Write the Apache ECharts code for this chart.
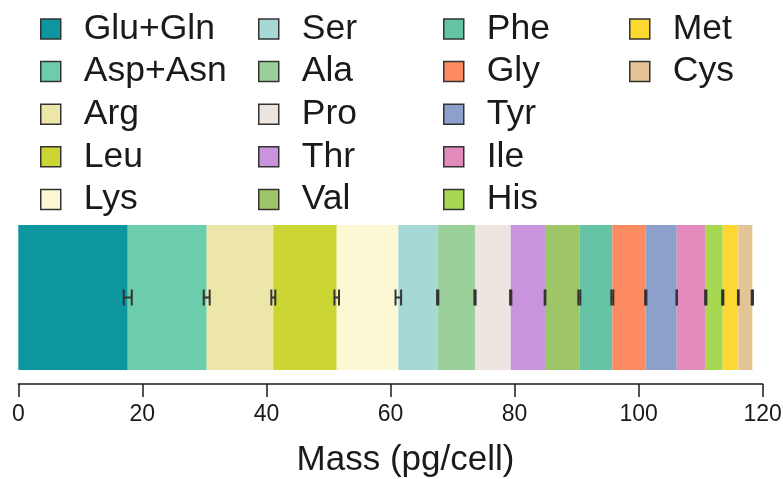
<!DOCTYPE html>
<html>
<head>
<meta charset="utf-8">
<script src="https://cdn.jsdelivr.net/npm/echarts@6/dist/echarts.min.js"></script>
<style>
  html, body { margin: 0; padding: 0; background: #fff; }
  #chart { width: 783px; height: 479px; }
</style>
</head>
<body>
<div id="chart"></div>
<script>
// Amino acid mass per cell (pg/cell), stacked left to right
const aminoAcids = ['Glu+Gln', 'Asp+Asn', 'Arg', 'Leu', 'Lys', 'Ser', 'Ala', 'Pro', 'Thr',
                    'Val', 'Phe', 'Gly', 'Tyr', 'Ile', 'His', 'Met', 'Cys'];
const massValues = [17.64, 12.73, 10.74, 10.22, 9.93, 6.35, 6.01, 5.76, 5.53,
                    5.53, 5.32, 5.39, 4.99, 4.68, 2.74, 2.51, 2.26];
const massErrors = [0.65, 0.48, 0.32, 0.37, 0.45, 0.10, 0.10, 0.10, 0.06,
                    0.16, 0.16, 0.10, 0.03, 0.10, 0.10, 0.06, 0.10];
const segmentColors = ['#0b96a0', '#6bcdab', '#ece6a9', '#cbd534', '#fbf8d3', '#a6d8d6',
                       '#9cd09a', '#ede5df', '#c994db', '#9ec668', '#66c4a6', '#fc8b62',
                       '#8ca0cb', '#e38abd', '#a6d852', '#fdd830', '#e4c495'];
const xTicks = { min: 0, max: 120, interval: 20 };
const legendColumns = [aminoAcids.slice(0, 5), aminoAcids.slice(5, 10),
                       aminoAcids.slice(10, 15), aminoAcids.slice(15)];

const FONT = '"Liberation Sans", Arial, Helvetica, sans-serif';
const INK = '#1a1a1a';

// running totals: each error bar sits at the right end of its segment
const errorBarData = [];
let running = 0;
massValues.forEach((v, i) => {
  running += v;
  errorBarData.push([running, 0, massErrors[i]]);
});

const barSeries = aminoAcids.map((name, i) => ({
  name: name,
  type: 'bar',
  stack: 'mass',
  data: [massValues[i]],
  barWidth: '100%',
  itemStyle: { color: segmentColors[i] },
  emphasis: { disabled: true },
  animation: false
}));

const errorSeries = {
  type: 'custom',
  data: errorBarData,
  encode: { x: 0, y: 1 },
  z: 10,
  animation: false,
  renderItem: function (params, api) {
    const total = api.value(0);
    const err = api.value(2);
    const lo = api.coord([total - err, 0]);
    const hi = api.coord([total + err, 0]);
    const cap = 8;
    const style = { stroke: '#333', lineWidth: 2 };
    return {
      type: 'group',
      children: [
        { type: 'line', shape: { x1: lo[0], y1: lo[1], x2: hi[0], y2: hi[1] }, style: style },
        { type: 'line', shape: { x1: lo[0], y1: lo[1] - cap, x2: lo[0], y2: lo[1] + cap }, style: style },
        { type: 'line', shape: { x1: hi[0], y1: hi[1] - cap, x2: hi[0], y2: hi[1] + cap }, style: style }
      ]
    };
  }
};

const legendLefts = [35, 253, 438, 624];
const legends = legendColumns.map((names, c) => ({
  data: names,
  left: legendLefts[c],
  top: 6,
  orient: 'vertical',
  icon: 'rect',
  itemWidth: 20,
  itemHeight: 20,
  itemGap: 6.6,
  selectedMode: false,
  itemStyle: { borderColor: '#333', borderWidth: 1.5 },
  textStyle: { fontFamily: FONT, fontSize: 35.5, color: INK, padding: [0, 0, 0, 18] }
}));

const chart = echarts.init(document.getElementById('chart'), null, { renderer: 'canvas' });
chart.setOption({
  backgroundColor: '#fff',
  animation: false,
  legend: legends,
  grid: { left: 18.3, right: 20.3, top: 225, height: 145, outerBoundsMode: 'none', containLabel: false },
  xAxis: {
    type: 'value',
    min: xTicks.min,
    max: xTicks.max,
    interval: xTicks.interval,
    offset: 14,
    axisLine: { show: true, lineStyle: { color: INK, width: 1.5 } },
    axisTick: { show: true, inside: false, length: 13, lineStyle: { color: INK, width: 1.5 } },
    axisLabel: { fontFamily: FONT, fontSize: 23, color: INK, margin: 19 },
    splitLine: { show: false },
    name: 'Mass (pg/cell)',
    nameLocation: 'middle',
    nameGap: 59,
    nameTextStyle: { fontFamily: FONT, fontSize: 35, color: INK, padding: [0, 0, 0, 30] }
  },
  yAxis: {
    type: 'category',
    data: ['cell'],
    show: false
  },
  series: barSeries.concat([errorSeries])
});
</script>
</body>
</html>
